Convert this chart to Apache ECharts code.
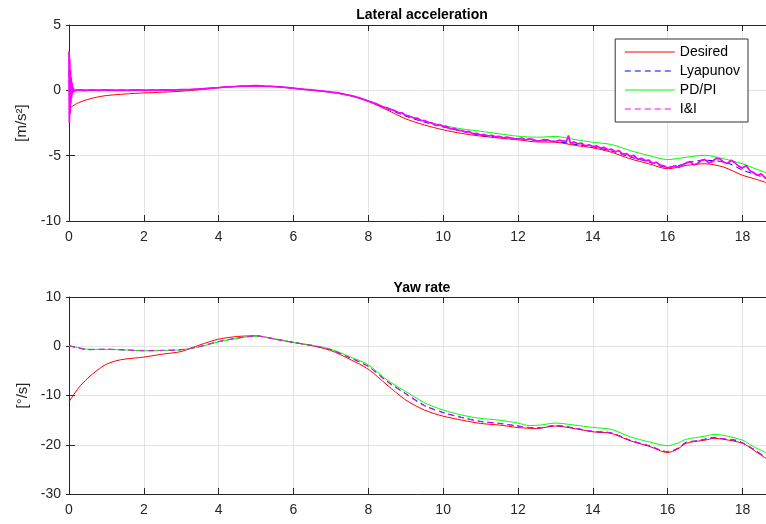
<!DOCTYPE html>
<html>
<head>
<meta charset="utf-8">
<script src="https://cdn.jsdelivr.net/npm/echarts@6/dist/echarts.min.js"></script>
<style>
  html, body { margin: 0; padding: 0; background: #fff; }
  #chart { width: 766px; height: 524px; }
</style>
</head>
<body>
<div id="chart"></div>
<script>
// time limits and tick labels
const X_MAX = 18.63;
const seriesNames = ['Desired', 'Lyapunov', 'PD/PI', 'I&I'];

// lateral acceleration [t, m/s^2]
const latDesired = [[0,-1.45],[0.05,-1.3],[0.1,-1.2],[0.25,-0.95],[0.5,-0.7],[0.75,-0.52],[1,-0.4],[1.5,-0.28],[2,-0.2],[2.5,-0.14],[3,-0.07],[3.5,0.05],[4,0.2],[4.5,0.3],[5,0.33],[5.5,0.28],[6,0.15],[6.5,0.0],[7,-0.15],[7.5,-0.4],[8,-0.85],[8.5,-1.5],[9,-2.18],[9.5,-2.65],[10,-3.02],[10.5,-3.3],[11,-3.5],[11.5,-3.65],[12,-3.79],[12.5,-3.95],[13,-3.97],[13.5,-4.2],[14,-4.4],[14.5,-4.74],[15,-5.24],[15.5,-5.62],[16,-6.0],[16.5,-5.75],[17,-5.62],[17.5,-5.88],[18,-6.5],[18.3,-6.75],[18.63,-7.05]];
const latLyap = [[0,1.5],[0.02,-1.2],[0.04,0.8],[0.06,-0.4],[0.1,0.1],[0.5,0.02],[1,0.02],[1.5,0.02],[2,0.02],[2.5,0.03],[3,0.04],[3.5,0.1],[4,0.21],[4.5,0.3],[5,0.34],[5.5,0.29],[6,0.16],[6.5,0.01],[7,-0.14],[7.5,-0.39],[8,-0.82],[8.5,-1.4],[9,-1.98],[9.5,-2.43],[10,-2.8],[10.5,-3.13],[11,-3.44],[11.5,-3.58],[12,-3.7],[12.5,-3.83],[13,-3.9],[13.5,-4.12],[14,-4.33],[14.5,-4.64],[15,-5.1],[15.5,-5.48],[16,-5.9],[16.3,-5.75],[16.6,-5.5],[17,-5.35],[17.3,-5.4],[17.6,-5.55],[18,-6.1],[18.3,-6.4],[18.63,-6.72]];
const latPDPI = [[0,0.0],[0.1,0.05],[0.5,0.04],[1,0.03],[1.5,0.02],[2,0.02],[2.5,0.02],[3,0.03],[3.5,0.08],[4,0.2],[4.5,0.3],[5,0.33],[5.5,0.28],[6,0.15],[6.5,0.0],[7,-0.15],[7.5,-0.4],[8,-0.8],[8.5,-1.35],[9,-1.88],[9.5,-2.35],[10,-2.69],[10.5,-2.95],[11,-3.13],[11.5,-3.33],[12,-3.51],[12.5,-3.59],[13,-3.53],[13.5,-3.76],[14,-3.97],[14.5,-4.15],[15,-4.61],[15.5,-4.99],[16,-5.3],[16.5,-5.12],[17,-4.97],[17.5,-5.24],[18,-5.62],[18.3,-5.95],[18.63,-6.3]];
const latII = [[0,3.0],[0.01,-2.5],[0.02,2.4],[0.03,-1.8],[0.04,1.6],[0.05,-1.0],[0.06,1.0],[0.07,-0.6],[0.08,0.6],[0.09,-0.3],[0.1,0.3],[0.12,-0.1],[0.15,0.05],
  [0.2,0.03],[0.4,-0.02],[0.6,0.03],[0.8,0.0],[1.0,0.03],[1.2,-0.01],[1.4,0.02],[1.6,0.0],[1.8,0.03],[2.0,0.0],[2.2,0.02],[2.4,0.01],[2.6,0.04],[2.8,0.02],
  [3.0,0.05],[3.2,0.06],[3.4,0.1],[3.6,0.12],[3.8,0.17],[4.0,0.21],[4.2,0.26],[4.4,0.28],[4.6,0.32],[4.8,0.33],[5.0,0.35],[5.2,0.32],[5.4,0.3],[5.6,0.27],
  [5.8,0.22],[6.0,0.17],[6.2,0.1],[6.4,0.05],[6.6,0.0],[6.8,-0.06],[7.0,-0.13],[7.2,-0.2],[7.4,-0.33],[7.6,-0.45],[7.8,-0.62],[8.0,-0.83],[8.2,-1.02],
  [8.4,-1.28],[8.5,-1.34],[8.6,-1.45],[8.7,-1.55],[8.8,-1.7],[8.9,-1.72],[9.0,-1.92],[9.1,-1.98],[9.2,-2.1],[9.3,-2.12],[9.4,-2.3],[9.5,-2.32],[9.6,-2.45],
  [9.7,-2.5],[9.8,-2.68],[9.9,-2.62],[10.0,-2.78],[10.1,-2.76],[10.2,-2.95],[10.3,-2.92],[10.4,-3.05],[10.5,-3.08],[10.6,-3.18],[10.7,-3.15],
  [10.8,-3.32],[10.9,-3.3],[11.0,-3.42],[11.1,-3.38],[11.2,-3.48],[11.3,-3.44],[11.4,-3.55],[11.5,-3.52],[11.6,-3.64],[11.7,-3.58],[11.8,-3.64],
  [11.9,-3.72],[12.0,-3.74],[12.1,-3.66],[12.2,-3.8],[12.3,-3.72],[12.4,-3.76],[12.5,-3.88],[12.6,-3.86],[12.7,-3.77],[12.8,-3.8],[12.9,-3.9],[13.0,-3.93],
  [13.1,-3.82],[13.2,-3.86],[13.3,-3.9],[13.35,-3.45],[13.4,-4.05],[13.5,-3.95],[13.6,-4.1],[13.7,-4.05],[13.8,-4.25],[13.9,-4.17],[14.0,-4.3],[14.1,-4.25],
  [14.2,-4.42],[14.3,-4.36],[14.4,-4.55],[14.5,-4.5],[14.6,-4.7],[14.7,-4.62],[14.8,-4.88],[14.9,-4.85],[15.0,-5.05],[15.1,-4.97],[15.2,-5.28],[15.3,-5.2],
  [15.4,-5.38],[15.5,-5.35],[15.6,-5.6],[15.7,-5.5],[15.8,-5.72],[15.9,-5.78],[16.0,-5.95],[16.1,-5.85],[16.2,-5.78],[16.3,-5.9],[16.4,-5.72],[16.5,-5.55],
  [16.6,-5.45],[16.7,-5.7],[16.8,-5.6],[16.9,-5.35],[17.0,-5.3],[17.1,-5.55],[17.2,-5.45],[17.3,-5.2],[17.4,-5.25],[17.5,-5.5],[17.6,-5.6],[17.7,-5.35],
  [17.8,-5.55],[17.9,-5.8],[18.0,-5.95],[18.1,-5.75],[18.2,-6.15],[18.3,-6.3],[18.4,-6.5],[18.5,-6.4],[18.63,-6.75]];

// yaw rate [t, deg/s]
const yawDesired = [[0,-11.3],[0.25,-8.5],[0.5,-6.5],[0.75,-4.9],[1,-3.65],[1.25,-2.97],[1.5,-2.6],[2,-2.2],[2.5,-1.6],[3,-1.07],[3.5,0.28],[4,1.44],[4.5,1.98],[5,2.12],[5.5,1.44],[6,0.76],[6.5,0.1],[7,-0.87],[7.5,-2.63],[8,-4.67],[8.5,-7.86],[9,-10.9],[9.5,-12.95],[10,-14.2],[10.5,-15.0],[11,-15.67],[11.5,-16.0],[12,-16.5],[12.5,-16.7],[13,-16.2],[13.5,-16.7],[14,-17.37],[14.5,-17.7],[15,-19.2],[15.5,-20.3],[16,-21.57],[16.25,-20.96],[16.5,-19.7],[17,-19.06],[17.25,-18.7],[17.5,-18.9],[18,-19.7],[18.3,-21.1],[18.63,-22.8]];
const yawLyap = [[0,0.1],[0.25,-0.35],[0.5,-0.7],[1,-0.62],[1.5,-0.75],[2,-0.9],[2.5,-0.85],[3,-0.7],[3.5,-0.05],[4,0.95],[4.5,1.65],[5,2.08],[5.5,1.48],[6,0.78],[6.5,0.15],[7,-0.7],[7.5,-2.3],[8,-4.1],[8.5,-7.1],[9,-9.6],[9.5,-12.0],[10,-13.45],[10.5,-14.45],[11,-15.25],[11.5,-15.65],[12,-16.2],[12.5,-16.6],[13,-16.1],[13.5,-16.6],[14,-17.3],[14.5,-17.6],[15,-19.1],[15.5,-20.2],[16,-21.4],[16.25,-20.8],[16.5,-19.5],[16.8,-19.2],[17,-18.85],[17.25,-18.5],[17.5,-18.8],[17.8,-19.1],[18,-19.6],[18.3,-20.9],[18.63,-22.6]];
const yawPDPI = [[0,0.0],[0.25,-0.3],[0.5,-0.6],[1,-0.65],[1.5,-0.75],[2,-0.9],[2.5,-0.85],[3,-0.7],[3.5,-0.1],[4,0.9],[4.5,1.6],[5,2.05],[5.5,1.5],[6,0.8],[6.5,0.2],[7,-0.6],[7.5,-2.1],[8,-3.79],[8.5,-6.84],[9,-9.2],[9.5,-11.46],[10,-12.95],[10.5,-13.97],[11,-14.65],[11.5,-15.0],[12,-15.6],[12.3,-16.1],[12.6,-16.0],[13,-15.6],[13.5,-16.0],[14,-16.48],[14.5,-16.9],[15,-18.4],[15.5,-19.4],[16,-20.2],[16.25,-19.7],[16.5,-18.9],[17,-18.25],[17.25,-17.9],[17.5,-18.1],[18,-19.06],[18.3,-20.4],[18.63,-21.6]];
const yawII = [[0,0.1],[0.25,-0.3],[0.5,-0.65],[1,-0.6],[1.5,-0.75],[2,-0.9],[2.5,-0.85],[3,-0.7],[3.5,-0.05],[4,0.95],[4.5,1.65],[5,2.08],[5.5,1.48],[6,0.78],[6.5,0.15],[7,-0.7],[7.5,-2.3],[8,-4.13],[8.5,-7.18],[9,-9.7],[9.5,-12.1],[10,-13.5],[10.5,-14.5],[11,-15.3],[11.5,-15.67],[12,-16.2],[12.5,-16.6],[13,-16.1],[13.5,-16.6],[14,-17.3],[14.5,-17.6],[15,-19.1],[15.5,-20.2],[16,-21.4],[16.25,-20.8],[16.5,-19.5],[16.7,-19.3],[17,-18.9],[17.2,-18.6],[17.4,-18.7],[17.6,-18.9],[17.8,-19.0],[18,-19.6],[18.3,-20.9],[18.63,-22.6]];

const colors = ['#ff0000', '#0000ff', '#00ff00', '#ff00ff'];
const lineTypes = ['solid', [6, 4], 'solid', [6, 4]];
const txt = '#262626';
const font = 'Liberation Sans, Arial, sans-serif';

const chart = echarts.init(document.getElementById('chart'));

function xAxes(gi) {
  return [
    {
      gridIndex: gi, type: 'value', min: 0, max: X_MAX, interval: 2,
      axisLine: { show: true, onZero: false, lineStyle: { color: txt } },
      axisTick: { inside: true, length: 6, lineStyle: { color: txt } },
      axisLabel: { showMaxLabel: false, color: txt, fontSize: 14, margin: 9, fontFamily: font },
      splitLine: { show: true, lineStyle: { color: '#e3e3e3' } },
    },
    {
      gridIndex: gi, type: 'value', position: 'top', min: 0, max: X_MAX, interval: 2,
      axisLine: { show: true, onZero: false, lineStyle: { color: txt } },
      axisTick: { inside: true, length: 6, lineStyle: { color: txt } },
      axisLabel: { show: false },
      splitLine: { show: false },
    },
  ];
}

function yAxes(gi, min, max, step, name, gap) {
  return [
    {
      gridIndex: gi, type: 'value', min, max, interval: step,
      name, nameLocation: 'middle', nameGap: gap,
      nameTextStyle: { color: txt, fontSize: 15, fontFamily: font },
      axisLine: { show: true, onZero: false, lineStyle: { color: txt } },
      axisTick: { inside: true, length: 6, lineStyle: { color: txt } },
      axisLabel: { color: txt, fontSize: 14, margin: 8, fontFamily: font },
      splitLine: { show: true, lineStyle: { color: '#e3e3e3' } },
    },
    {
      gridIndex: gi, type: 'value', position: 'right', min, max, interval: step,
      axisLine: { show: false },
      axisTick: { show: true, inside: true, length: 3, lineStyle: { color: txt } },
      axisLabel: { show: false },
      splitLine: { show: false },
    },
  ];
}

const latData = [latDesired, latLyap, latPDPI, latII];
const yawData = [yawDesired, yawLyap, yawPDPI, yawII];
const series = [];
[latData, yawData].forEach((set, gi) => {
  set.forEach((d, i) => {
    const noisy = i === 3 && gi === 0;
    series.push({
      name: seriesNames[i],
      type: 'line',
      xAxisIndex: gi * 2,
      yAxisIndex: gi * 2,
      data: d,
      symbol: 'none',
      smooth: noisy ? false : 0.3,
      animation: false,
      lineStyle: {
        color: colors[i],
        type: noisy ? 'solid' : lineTypes[i],
        width: noisy ? 1.8 : 1,
      },
      itemStyle: { color: colors[i] },
    });
  });
});

chart.setOption({
  backgroundColor: '#fff',
  animation: false,
  title: [
    { text: 'Lateral acceleration', left: 417, top: 3, textAlign: 'center',
      textStyle: { fontSize: 14, fontWeight: 'bold', color: '#000', fontFamily: font } },
    { text: 'Yaw rate', left: 417, top: 276, textAlign: 'center',
      textStyle: { fontSize: 14, fontWeight: 'bold', color: '#000', fontFamily: font } },
  ],
  legend: {
    data: seriesNames.map((n, i) => ({
      name: n,
      itemStyle: { opacity: 0 },
      lineStyle: { color: colors[i], type: lineTypes[i], width: 1.2 },
    })),
    orient: 'vertical',
    right: 18,
    top: 39,
    itemWidth: 50,
    itemHeight: 14,
    itemGap: 5,
    padding: [6, 8, 6, 9],
    borderColor: '#333',
    borderWidth: 1,
    backgroundColor: '#fff',
    textStyle: { color: '#000', fontSize: 14, fontFamily: font },
  },
  grid: [
    { left: 69, right: 0, top: 25, height: 196 },
    { left: 69, right: 0, top: 297, height: 197 },
  ],
  xAxis: [...xAxes(0), ...xAxes(1)],
  yAxis: [...yAxes(0, -10, 5, 5, '[m/s²]', 40), ...yAxes(1, -30, 10, 10, '[°/s]', 38)],
  series,
});
</script>
</body>
</html>
